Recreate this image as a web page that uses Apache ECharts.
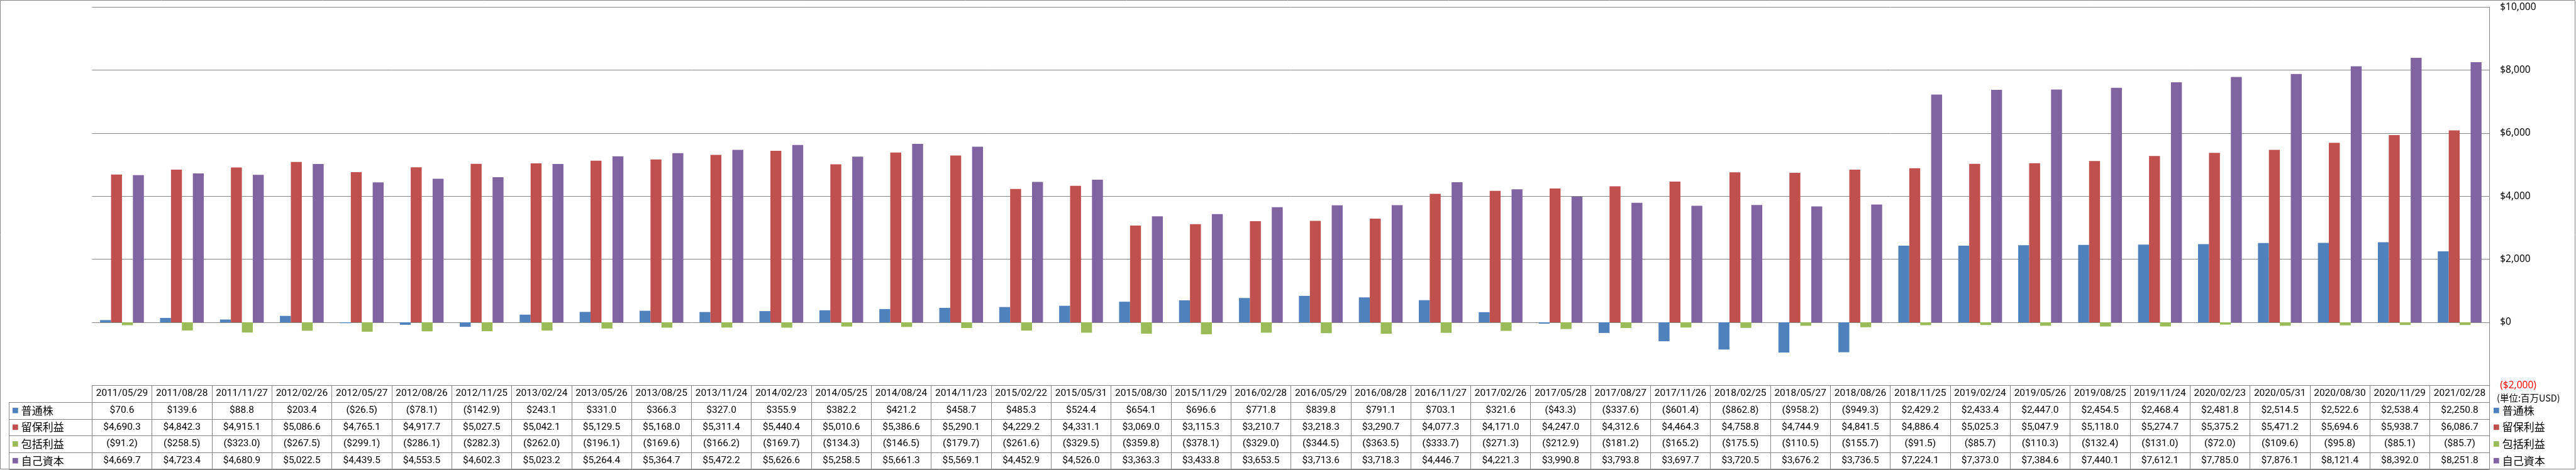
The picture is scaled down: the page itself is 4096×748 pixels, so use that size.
<!DOCTYPE html>
<html><head><meta charset="utf-8">
<script src="https://cdn.jsdelivr.net/npm/echarts@6/dist/echarts.min.js"></script>
<style>html,body{margin:0;padding:0;background:#fff}#c{width:4096px;height:748px}</style>
</head><body><div id="c"></div>
<script>
const categories = ['2011/05/29','2011/08/28','2011/11/27','2012/02/26','2012/05/27','2012/08/26','2012/11/25','2013/02/24','2013/05/26','2013/08/25','2013/11/24','2014/02/23','2014/05/25','2014/08/24','2014/11/23','2015/02/22','2015/05/31','2015/08/30','2015/11/29','2016/02/28','2016/05/29','2016/08/28','2016/11/27','2017/02/26','2017/05/28','2017/08/27','2017/11/26','2018/02/25','2018/05/27','2018/08/26','2018/11/25','2019/02/24','2019/05/26','2019/08/25','2019/11/24','2020/02/23','2020/05/31','2020/08/30','2020/11/29','2021/02/28'];
const commonStock = [70.6,139.6,88.8,203.4,-26.5,-78.1,-142.9,243.1,331.0,366.3,327.0,355.9,382.2,421.2,458.7,485.3,524.4,654.1,696.6,771.8,839.8,791.1,703.1,321.6,-43.3,-337.6,-601.4,-862.8,-958.2,-949.3,2429.2,2433.4,2447.0,2454.5,2468.4,2481.8,2514.5,2522.6,2538.4,2250.8];
const retainedEarnings = [4690.3,4842.3,4915.1,5086.6,4765.1,4917.7,5027.5,5042.1,5129.5,5168.0,5311.4,5440.4,5010.6,5386.6,5290.1,4229.2,4331.1,3069.0,3115.3,3210.7,3218.3,3290.7,4077.3,4171.0,4247.0,4312.6,4464.3,4758.8,4744.9,4841.5,4886.4,5025.3,5047.9,5118.0,5274.7,5375.2,5471.2,5694.6,5938.7,6086.7];
const comprehensiveIncome = [-91.2,-258.5,-323.0,-267.5,-299.1,-286.1,-282.3,-262.0,-196.1,-169.6,-166.2,-169.7,-134.3,-146.5,-179.7,-261.6,-329.5,-359.8,-378.1,-329.0,-344.5,-363.5,-333.7,-271.3,-212.9,-181.2,-165.2,-175.5,-110.5,-155.7,-91.5,-85.7,-110.3,-132.4,-131.0,-72.0,-109.6,-95.8,-85.1,-85.7];
const equity = [4669.7,4723.4,4680.9,5022.5,4439.5,4553.5,4602.3,5023.2,5264.4,5364.7,5472.2,5626.6,5258.5,5661.3,5569.1,4452.9,4526.0,3363.3,3433.8,3653.5,3713.6,3718.3,4446.7,4221.3,3990.8,3793.8,3697.7,3720.5,3676.2,3736.5,7224.1,7373.0,7384.6,7440.1,7612.1,7785.0,7876.1,8121.4,8392.0,8251.8];
const seriesNames = ['普通株','留保利益','包括利益','自己資本'];
const unitLabel = '(単位:百万USD)';
const yMin = -2000, yMax = 10000, yInterval = 2000;

const COLORS = ['#4F81BD','#C0504D','#9BBB59','#8064A2'];
const GRID = '#868686';
const W = 4096, H = 748;
const gridLeft = 146.3, gridRightEdge = 3958.7, gridTop = 11.3, tableTop = 613.3, tableBottom = 746.5;
const rowH = (tableBottom - tableTop) / 5;
const TABLE_FONT = "Roboto,sans-serif";
const CJK_FONT = "'Noto Sans CJK JP','Noto Sans',sans-serif";

function money(v, dec) {
  const a = Math.abs(v).toFixed(dec);
  const parts = a.split('.');
  parts[0] = parts[0].replace(/\B(?=(\d{3})+(?!\d))/g, ',');
  const s = '$' + parts.join('.');
  return v < 0 ? '(' + s + ')' : s;
}

const rowData = [null, commonStock, retainedEarnings, comprehensiveIncome, equity];
const xAxes = rowData.map((r, i) => ({
  type: 'category', data: categories, gridIndex: 0, position: 'bottom', boundaryGap: true,
  axisLine: { show: false, onZero: false },
  axisTick: i === 0 ? { show: true, interval: 0, length: tableBottom - tableTop, lineStyle: { color: GRID, width: 1 } } : { show: false },
  axisLabel: {
    show: true, interval: 0, hideOverlap: false, margin: rowH * (i + 0.5), verticalAlign: 'middle',
    color: '#000', fontSize: 15.5, fontFamily: TABLE_FONT,
    formatter: i === 0 ? (v => v) : ((v, idx) => money(r[idx], 1))
  },
  splitLine: { show: false }
}));

const seriesData = [commonStock, retainedEarnings, comprehensiveIncome, equity];
const chart = echarts.init(document.getElementById('c'), null, { renderer: 'canvas' });

function legendCfg(left) {
  return {
    orient: 'vertical', left: left, top: tableTop + rowH, padding: 0, itemGap: 0,
    itemWidth: 8.7, itemHeight: 8.7, icon: 'rect', selectedMode: false,
    data: seriesNames,
    textStyle: { fontSize: 17, fontFamily: CJK_FONT, color: '#000', lineHeight: rowH }
  };
}

const hLines = [];
for (let k = 1; k <= 5; k++) {
  const y = Math.round(tableTop + rowH * k) + 0.5;
  hLines.push({ type: 'line', shape: { x1: 14.6, y1: y, x2: gridRightEdge, y2: y }, style: { stroke: GRID, lineWidth: 1 }, silent: true });
}

chart.setOption({
  animation: false,
  backgroundColor: '#fff',
  grid: { left: gridLeft, right: W - gridRightEdge, top: gridTop, bottom: H - tableTop, containLabel: false },
  xAxis: xAxes,
  yAxis: {
    type: 'value', position: 'right', min: yMin, max: yMax, interval: yInterval,
    axisLine: { show: true, lineStyle: { color: GRID, width: 1 } },
    axisTick: { show: false },
    splitLine: { show: true, lineStyle: { color: GRID, width: 1 } },
    axisLabel: {
      margin: 16.5, fontSize: 15.5, fontFamily: "'Noto Sans',sans-serif",
      color: v => (Number(v) < 0 ? '#FF0000' : '#000'),
      formatter: v => money(v, 0)
    }
  },
  legend: [legendCfg(20), legendCfg(3965)],
  series: seriesNames.map((n, i) => ({
    name: n, type: 'bar', xAxisIndex: 0, yAxisIndex: 0, data: seriesData[i],
    barWidth: 17.4, barGap: '0%', itemStyle: { color: COLORS[i] }
  })),
  graphic: [
    { type: 'rect', shape: { x: 0.5, y: 0.5, width: 4094, height: 746 }, style: { fill: 'none', stroke: GRID, lineWidth: 1 }, silent: true, z: 10 },
    { type: 'line', shape: { x1: 14.6, y1: tableTop + rowH, x2: 14.6, y2: tableBottom }, style: { stroke: GRID, lineWidth: 1 }, silent: true },
    ...hLines,
    { type: 'text', x: 3970, y: 633, style: { text: unitLabel, font: "14.5px 'Noto Sans CJK JP'", fill: '#000', verticalAlign: 'middle' }, silent: true }
  ]
});
</script>
</body></html>
